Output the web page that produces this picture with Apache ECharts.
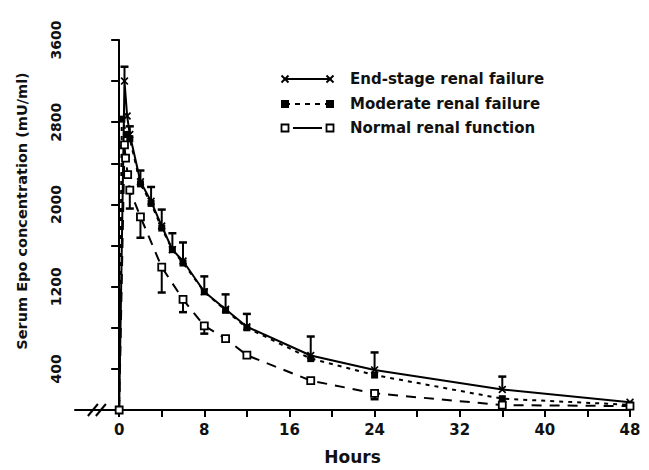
<!DOCTYPE html>
<html>
<head>
<meta charset="utf-8">
<script src="https://cdn.jsdelivr.net/npm/echarts@6/dist/echarts.min.js"></script>
<style>
html,body{margin:0;padding:0;background:#fff;}
#chart{width:649px;height:470px;}
</style>
</head>
<body>
<div id="chart"></div>
<script>
// ---- data ----
const seriesNames = ['End-stage renal failure', 'Moderate renal failure', 'Normal renal function'];

const esHours  = [0, 0.5, 0.75, 1, 2, 3, 4, 5, 6, 8, 10, 12, 18, 24, 36, 48];
const esValues = [0, 3200, 2860, 2680, 2220, 2030, 1790, 1560, 1450, 1150, 980, 810, 530, 390, 200, 75];
const esErrTop = [null, 3340, null, 2760, 2330, 2170, 1950, 1720, 1630, 1300, 1125, 935, 715, 560, 325, null];

const modHours  = [0, 0.25, 0.75, 1, 2, 3, 4, 5, 6, 8, 10, 12, 18, 24, 36, 48];
const modValues = [0, 2830, 2680, 2640, 2200, 2010, 1770, 1560, 1430, 1150, 970, 800, 500, 340, 110, 50];

const nrHours     = [0, 0.5, 0.6, 0.8, 1, 2, 4, 6, 8, 10, 12, 18, 24, 36, 48];
const nrValues    = [0, 2580, 2450, 2290, 2140, 1880, 1390, 1076, 819, 695, 533, 286, 162, 48, 38];
const nrErrBottom = [null, null, null, null, 1960, 1676, 1143, 952, 743, null, null, null, 105, null, null];

const xTickValues  = [0, 4, 8, 12, 16, 20, 24, 28, 32, 36, 40, 44, 48];
const xLabelValues = [0, 8, 16, 24, 32, 40, 48];
const yTickValues  = [0, 400, 800, 1200, 1600, 2000, 2400, 2800, 3200, 3600];
const yLabelValues = [400, 1200, 2000, 2800, 3600];

// ---- helpers ----
const pairs = (xs, ys) => xs.map((x, i) => [x, ys[i]]);
const errData = (xs, ys, es) => xs.map((x, i) => [x, ys[i], es[i]]).filter(d => d[2] != null);
const FONT = 'DejaVu Sans';

function errRender(params, api) {
  const x = api.value(0), y = api.value(1), e = api.value(2);
  const p1 = api.coord([x, y]);
  const p2 = api.coord([x, e]);
  const hw = 4;
  return {
    type: 'group',
    children: [
      { type: 'line', shape: { x1: p1[0], y1: p1[1], x2: p2[0], y2: p2[1] }, style: { stroke: '#000', lineWidth: 2 } },
      { type: 'line', shape: { x1: p2[0] - hw, y1: p2[1], x2: p2[0] + hw, y2: p2[1] }, style: { stroke: '#000', lineWidth: 2.5 } }
    ]
  };
}

const xSymbol = 'path://M0,1.5L1.5,0L5,3.5L8.5,0L10,1.5L6.5,5L10,8.5L8.5,10L5,6.5L1.5,10L0,8.5L3.5,5Z';

const chart = echarts.init(document.getElementById('chart'), null, { renderer: 'svg' });

const option = {
  animation: false,
  backgroundColor: '#fff',
  grid: { left: 75, right: 19, top: 40, bottom: 52, containLabel: false },
  xAxis: {
    type: 'value',
    min: -4.15, max: 48,
    name: 'Hours', nameLocation: 'middle', nameGap: 38,
    nameTextStyle: { fontFamily: FONT, fontSize: 17, fontWeight: 'bold', color: '#111' },
    axisLine: { show: true, onZero: false, lineStyle: { color: '#000', width: 2 } },
    axisTick: { show: true, length: 7, lineStyle: { color: '#000', width: 2 }, customValues: xTickValues },
    axisLabel: { fontFamily: FONT, fontSize: 15, fontWeight: 'bold', color: '#111', margin: 12, customValues: xLabelValues,
      formatter: v => String(v) },
    splitLine: { show: false }
  },
  yAxis: {
    type: 'value',
    min: 0, max: 3600,
    name: 'Serum Epo concentration (mU/ml)', nameLocation: 'middle', nameRotate: 90, nameGap: 46,
    nameTextStyle: { fontFamily: FONT, fontSize: 14.5, fontWeight: 'bold', color: '#111', padding: [0, 0, 0, 28] },
    axisLine: { show: true, lineStyle: { color: '#000', width: 2 } },
    axisTick: { show: true, length: 8, lineStyle: { color: '#000', width: 2 }, customValues: yTickValues },
    axisLabel: { fontFamily: FONT, fontSize: 14, fontWeight: 'bold', color: '#111', rotate: 90, margin: 12, customValues: yLabelValues,
      formatter: v => String(v) },
    splitLine: { show: false }
  },
  series: [
    {
      name: seriesNames[0], type: 'line', data: pairs(esHours, esValues),
      symbol: xSymbol, symbolSize: 8, showSymbol: true,
      lineStyle: { color: '#000', width: 2, type: 'solid' },
      itemStyle: { color: '#000' }, z: 5
    },
    {
      name: seriesNames[1], type: 'line', data: pairs(modHours, modValues),
      symbol: 'rect', symbolSize: 7, showSymbol: true,
      lineStyle: { color: '#000', width: 2, type: [4, 5] },
      itemStyle: { color: '#000' }, z: 4
    },
    {
      name: seriesNames[2], type: 'line', data: pairs(nrHours, nrValues),
      symbol: 'rect', symbolSize: 7, showSymbol: true,
      lineStyle: { color: '#000', width: 2, type: [10, 8] },
      itemStyle: { color: '#fff', borderColor: '#000', borderWidth: 1.8 }, z: 6
    },
    {
      type: 'custom', renderItem: errRender, data: errData(esHours, esValues, esErrTop),
      encode: { x: 0, y: [1, 2] }, z: 3
    },
    {
      type: 'custom', renderItem: errRender, data: errData(nrHours, nrValues, nrErrBottom),
      encode: { x: 0, y: [1, 2] }, z: 3
    }
  ]
};
chart.setOption(option);

// ---- legend (hand drawn, symbols at both ends) and axis break marks ----
const lx1 = 285, lx2 = 330, tx = 350, rows = [79, 104, 128];
function xMark(cx, cy) {
  return [
    { type: 'line', shape: { x1: cx - 3.5, y1: cy - 3.5, x2: cx + 3.5, y2: cy + 3.5 }, style: { stroke: '#000', lineWidth: 2 } },
    { type: 'line', shape: { x1: cx - 3.5, y1: cy + 3.5, x2: cx + 3.5, y2: cy - 3.5 }, style: { stroke: '#000', lineWidth: 2 } }
  ];
}
const g = [];
g.push({ type: 'line', shape: { x1: lx1, y1: rows[0], x2: lx2, y2: rows[0] }, style: { stroke: '#000', lineWidth: 2 } });
g.push(...xMark(lx1, rows[0]), ...xMark(lx2, rows[0]));
g.push({ type: 'line', shape: { x1: lx1, y1: rows[1], x2: lx2, y2: rows[1] }, style: { stroke: '#000', lineWidth: 2, lineDash: [5, 5] } });
g.push({ type: 'rect', shape: { x: lx1 - 4, y: rows[1] - 4, width: 8, height: 8 }, style: { fill: '#000' } });
g.push({ type: 'rect', shape: { x: lx2 - 4, y: rows[1] - 4, width: 8, height: 8 }, style: { fill: '#000' } });
g.push({ type: 'line', shape: { x1: lx1 + 8, y1: rows[2], x2: lx2 - 8, y2: rows[2] }, style: { stroke: '#000', lineWidth: 2 } });
g.push({ type: 'rect', shape: { x: lx1 - 3.5, y: rows[2] - 3.5, width: 7, height: 7 }, style: { fill: '#fff', stroke: '#000', lineWidth: 1.8 } });
g.push({ type: 'rect', shape: { x: lx2 - 3.5, y: rows[2] - 3.5, width: 7, height: 7 }, style: { fill: '#fff', stroke: '#000', lineWidth: 1.8 } });
seriesNames.forEach((n, i) => {
  g.push({ type: 'text', x: tx, y: rows[i], style: { text: n, fill: '#111', font: 'bold 15px "' + FONT + '"', textVerticalAlign: 'middle', textAlign: 'left' } });
});
const ax = chart.convertToPixel({ xAxisIndex: 0 }, -2.0);
const ay = chart.convertToPixel({ yAxisIndex: 0 }, 0);
g.push({ type: 'rect', shape: { x: ax - 4, y: ay - 3, width: 8, height: 6 }, style: { fill: '#fff' } });
g.push({ type: 'line', shape: { x1: ax - 10, y1: ay + 6, x2: ax, y2: ay - 6 }, style: { stroke: '#000', lineWidth: 2 } });
g.push({ type: 'line', shape: { x1: ax - 2, y1: ay + 6, x2: ax + 8, y2: ay - 6 }, style: { stroke: '#000', lineWidth: 2 } });
chart.setOption({ graphic: g });
</script>
</body>
</html>
